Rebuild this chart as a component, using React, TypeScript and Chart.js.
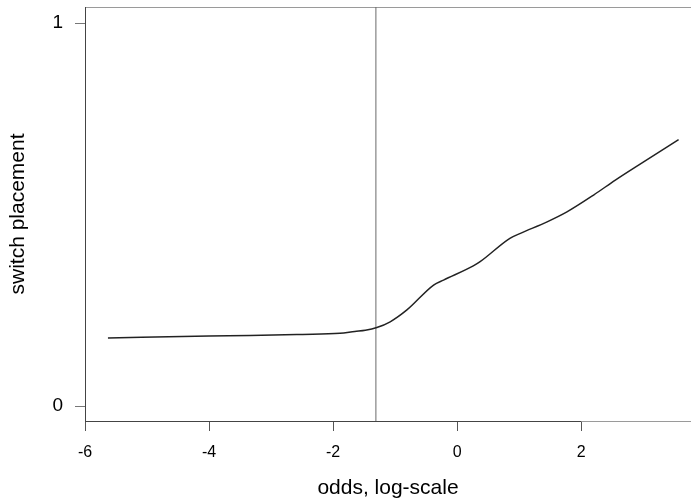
import React, { useEffect, useRef } from "react";
import { Chart, registerables } from "chart.js";

Chart.register(...registerables);

const curveX = [-5.63, -4.0, -3.34, -2.53, -1.89, -1.65, -1.48, -1.295, -1.08, -0.81, -0.38, -0.22, 0.26, 0.37, 0.85, 1.02, 1.45, 1.77, 2.2, 2.55, 3.0, 3.57];
const curveY = [0.178, 0.183, 0.184, 0.187, 0.19, 0.195, 0.198, 0.205, 0.22, 0.251, 0.316, 0.329, 0.366, 0.377, 0.438, 0.451, 0.481, 0.507, 0.551, 0.59, 0.637, 0.696];
const cutoffX = -1.31;
const xTicks = [-6, -4, -2, 0, 2];
const yTicks = [0, 1];
const xRange = [-6, 3.77];
const yRange = [-0.039, 1.042];
const xTitle = "odds, log-scale";
const yTitle = "switch placement";

const FONT = "'Liberation Sans', Arial, sans-serif";

const framePlugin = {
  id: "frame",
  beforeDatasetsDraw(chart: any) {
    const { ctx, chartArea } = chart;
    const xs = chart.scales.x;
    ctx.save();
    ctx.lineWidth = 1;
    ctx.strokeStyle = "#9a9a9a";
    ctx.strokeRect(chartArea.left + 0.5, chartArea.top + 0.5, chartArea.right - chartArea.left + 2, chartArea.bottom - chartArea.top);
    ctx.strokeStyle = "#444";
    ctx.beginPath();
    ctx.moveTo(chartArea.left + 0.5, chartArea.top);
    ctx.lineTo(chartArea.left + 0.5, chartArea.bottom + 0.5);
    ctx.moveTo(xs.getPixelForValue(xTicks[0]), chartArea.bottom + 0.5);
    ctx.lineTo(xs.getPixelForValue(xTicks[xTicks.length - 1]), chartArea.bottom + 0.5);
    ctx.stroke();
    ctx.restore();
  },
};

export default function App() {
  const ref = useRef<HTMLCanvasElement | null>(null);
  useEffect(() => {
    if (!ref.current) return;
    const chart = new Chart(ref.current, {
      type: "line",
      data: {
        datasets: [
          {
            data: curveX.map((x, i) => ({ x, y: curveY[i] })),
            borderColor: "#222",
            borderWidth: 1.5,
            pointRadius: 0,
            cubicInterpolationMode: "monotone",
            fill: false,
          },
          {
            data: [
              { x: cutoffX, y: yRange[0] },
              { x: cutoffX, y: yRange[1] },
            ],
            borderColor: "#6a6a6a",
            borderWidth: 1,
            pointRadius: 0,
            fill: false,
          },
        ],
      },
      options: {
        responsive: false,
        animation: false,
        devicePixelRatio: 1,
        layout: { padding: { top: 7, right: 0, left: 0, bottom: 0 } },
        plugins: { legend: { display: false }, tooltip: { enabled: false } },
        scales: {
          x: {
            type: "linear",
            min: xRange[0],
            max: xRange[1],
            afterBuildTicks: (s: any) => {
              s.ticks = xTicks.map((v) => ({ value: v }));
            },
            afterFit: (s: any) => {
              s.height = 81;
              s.paddingLeft = 0;
              s.paddingRight = 0;
            },
            grid: { display: true, drawOnChartArea: false, drawTicks: true, tickLength: 10, color: "#555" },
            border: { display: false },
            ticks: { color: "#000", font: { family: FONT, size: 16 }, padding: 12, maxRotation: 0, autoSkip: false },
            title: { display: true, text: xTitle, color: "#000", font: { family: FONT, size: 21 }, padding: { top: 1, bottom: 1 } },
          },
          y: {
            type: "linear",
            min: yRange[0],
            max: yRange[1],
            afterBuildTicks: (s: any) => {
              s.ticks = yTicks.map((v) => ({ value: v }));
            },
            afterFit: (s: any) => {
              s.width = 85;
              s.paddingTop = 0;
              s.paddingBottom = 0;
            },
            grid: { display: true, drawOnChartArea: false, drawTicks: true, tickLength: 10, color: "#777" },
            border: { display: false },
            ticks: { color: "#000", font: { family: FONT, size: 19 }, padding: 12, autoSkip: false },
            title: { display: true, text: yTitle, color: "#000", font: { family: FONT, size: 21 }, padding: { top: 6, bottom: 0 } },
          },
        },
      },
      plugins: [framePlugin],
    });
    return () => chart.destroy();
  }, []);
  return (
    <div style={{ position: "absolute", left: 0, top: 0, width: 691, height: 502, background: "#fff" }}>
      <canvas ref={ref} width={691} height={502} />
    </div>
  );
}
